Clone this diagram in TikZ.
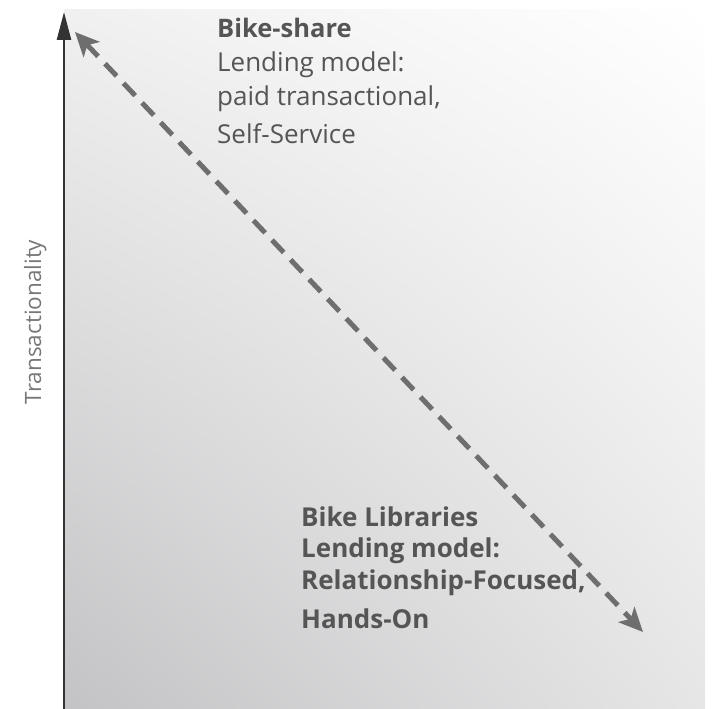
\documentclass[tikz,border=0pt]{standalone}
\usepackage{fontspec}
\setmainfont{Open Sans}
\usetikzlibrary{arrows.meta,shadings}
\definecolor{txt}{HTML}{555555}
\definecolor{axisc}{HTML}{333333}
\definecolor{dashc}{HTML}{6E6E6E}
\definecolor{bgdark}{HTML}{C3C3C5}
\definecolor{bgmid}{HTML}{E6E6E7}
\tikzset{
  lbl/.style={anchor=base west, inner sep=0pt, text=txt},
  boldlbl/.style={lbl, font=\fontsize{25.5}{30}\selectfont\bfseries},
  reglbl/.style={lbl, font=\fontsize{26}{30}\selectfont},
  boldlbltwo/.style={lbl, font=\fontsize{26}{30}\selectfont\bfseries},
  axisline/.style={draw=axisc, line width=2.5pt, -{Triangle[length=28pt,width=14pt]}},
  dasharrow/.style={draw=dashc, line width=5pt, dash pattern=on 17pt off 10pt,
     {Stealth[length=24pt,width=22pt,inset=6pt]}-{Stealth[length=24pt,width=22pt,inset=6pt]}}
}
\begin{document}
\begin{tikzpicture}[x=1pt,y=-1pt]
\useasboundingbox (0,0) rectangle (712,709);
\shade[lower left=bgdark, upper right=white, upper left=bgmid!60!white, lower right=bgmid]
  (64,10) rectangle (705,709);
\coordinate (axbot) at (64,709);
\coordinate (axtop) at (64,12);
\draw[axisline] (axbot) -- (axtop);
\node[rotate=90, anchor=base, inner sep=0pt, text=txt!80!white,
  font=\fontsize{22.5}{26}\selectfont] (ylab) at (41,322) {Transactionality};
\coordinate (dtop) at (75,32);
\coordinate (dbot) at (643,632);
\draw[dasharrow] (dtop) -- (dbot);
\node[boldlbl] (t1) at (217,38) {Bike-share};
\node[reglbl] (t2) at (217,71) {Lending model:};
\node[reglbl] (t3) at (217,105) {paid transactional,};
\node[reglbl] (t4) at (217,143) {Self-Service};
\node[boldlbltwo] (b1) at (301,526) {Bike Libraries};
\node[boldlbltwo] (b2) at (301,557) {Lending model:};
\node[boldlbltwo] (b3) at (301,589) {Relationship-Focused,};
\node[boldlbltwo] (b4) at (301,628) {Hands-On};
\end{tikzpicture}
\end{document}
